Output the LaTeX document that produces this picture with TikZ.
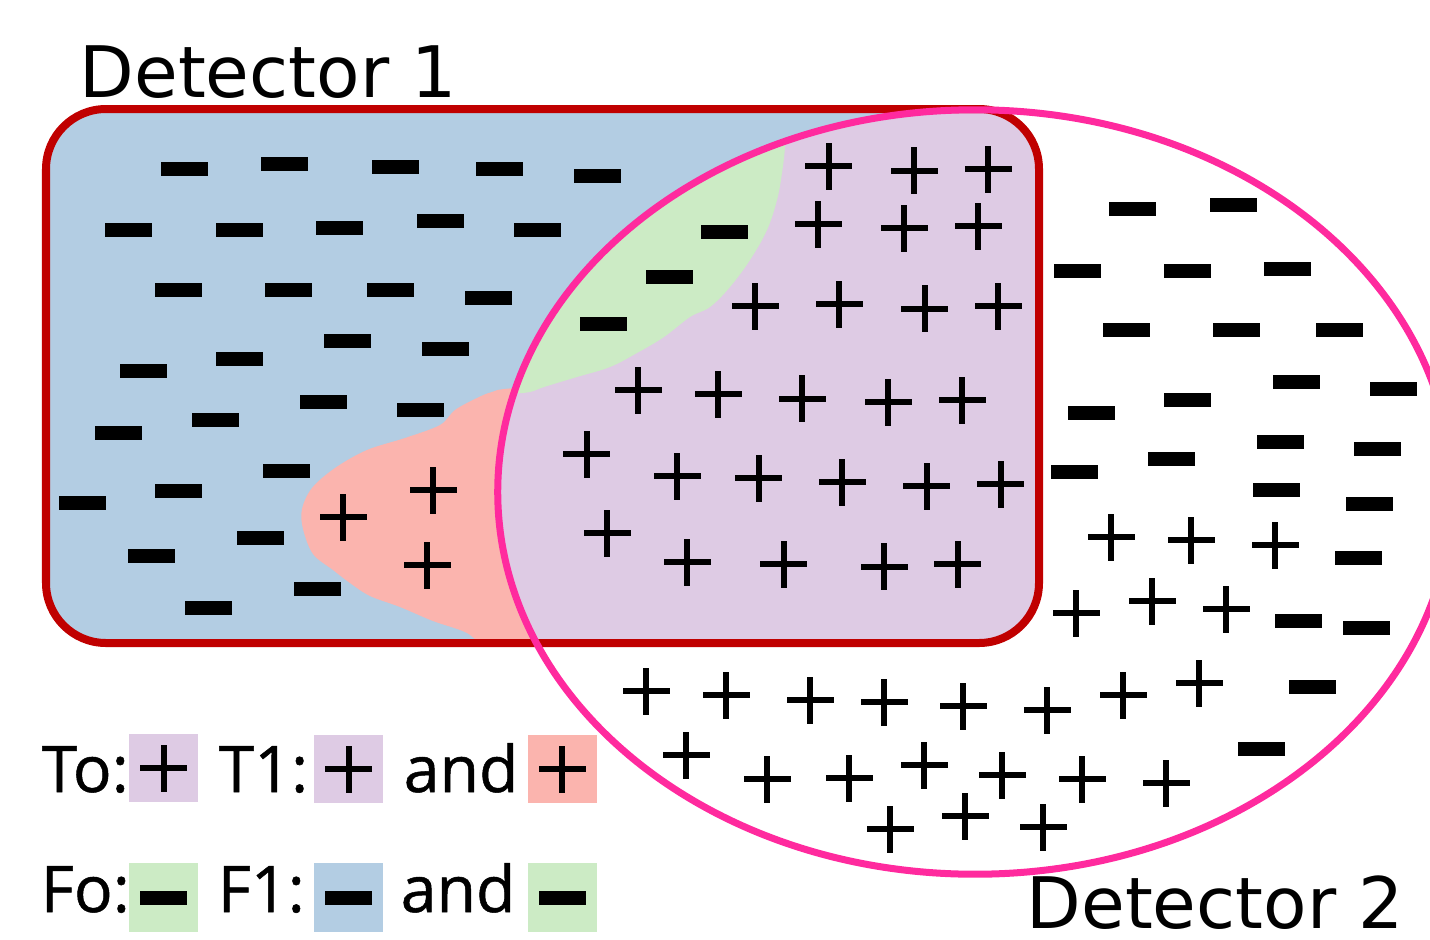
\documentclass[tikz,border=0pt]{standalone}
\usepackage{fontspec}
\newfontfamily\detfont{DejaVu Sans}
\newfontfamily\legfont{Open Sans}[FakeBold=0.8]
\definecolor{blueF}{HTML}{B3CDE3}
\definecolor{salF}{HTML}{FBB4AE}
\definecolor{greenF}{HTML}{CCEBC5}
\definecolor{purpF}{HTML}{DECBE4}
\definecolor{rectC}{HTML}{C00000}
\definecolor{ellC}{HTML}{FF2A9E}
\tikzset{
  pplus/.pic={\fill (-23.5,-3) rectangle (23.5,3); \fill (-3,-23.5) rectangle (3,23.5);},
  mminus/.pic={\fill (-23.5,-7) rectangle (23.5,7);},
  dettext/.style={anchor=base west, inner sep=0, font=\detfont\fontsize{20.2pt}{24pt}\selectfont},
  legtext/.style={anchor=base west, inner sep=0, font=\legfont\fontsize{18.3pt}{22pt}\selectfont},
  legbox/.style={minimum width=0.69cm, minimum height=0.68cm, inner sep=0, draw=none},
  detrect/.style={rounded corners=6mm},
}
\begin{document}
\begin{tikzpicture}[x=0.01cm,y=-0.01cm]
\useasboundingbox (0,0) rectangle (1430,939);
% regions inside detector 1
\begin{scope}
  \clip[detrect] (46,109) rectangle (1039,643);
  \fill[blueF] (0,0) rectangle (1100,700);
  \fill[salF] plot[smooth cycle, tension=0.55] coordinates {(515,388) (492,392) (477,398) (455,410) (440,425) (405,438) (367,450) (335,468) (312,488) (302,509) (303,529) (313,554) (333,570) (350,583) (370,596) (400,607) (433,621) (465,632) (500,650) (620,660) (640,380)};
  \fill[purpF] (975,492) ellipse [x radius=4.77cm, y radius=3.82cm];
\end{scope}
\begin{scope}
  \clip (975,492) ellipse [x radius=4.77cm, y radius=3.82cm];
  \fill[greenF] plot[smooth, tension=0.6] coordinates {(786,130) (785,148) (782,173) (777,200) (767,230) (750,260) (730,287) (710,307) (690,317) (664,337) (637,353) (610,367) (577,377) (544,387) (530,392) (510,394)} -- (440,394) -- (440,90) -- (790,90) -- cycle;
\end{scope}
% minus signs
\foreach \x/\y in {184.3/168.5, 284.7/164.3, 395.3/166.8, 499.5/168.5, 597/176.3,
  128.8/230.2, 239.5/230.2, 339.8/228, 440.2/221.3, 537.5/230.2,
  178.2/289.7, 288.2/289.7, 390.8/289.7, 488.2/297.7,
  143.5/371.3, 239.5/359, 347.8/340.7, 445.2/348.7,
  118.5/432.7, 215.2/420.3, 323.5/402.3, 420.5/410.3,
  286.5/471.3, 82.2/502.7, 178.2/491, 260.2/537.7, 151.5/555.7, 317.5/588.7, 208.5/607.7,
  724.8/231.8, 669.5/277, 603.8/324.3,
  1132.7/209.3, 1233.2/205.3, 1077.5/271, 1187.5/271, 1287.8/269,
  1126.2/330.3, 1236.5/330.3, 1339.5/330.3,
  1091.5/412.7, 1187.5/400, 1296.3/381.7, 1393.5/389.3,
  1074.8/471.5, 1171.2/459.3, 1280/441.7, 1377.2/449.3,
  1276.8/489.8, 1369/504.3, 1358.8/558, 1298/620.7, 1366.8/628,
  1312.8/687, 1261.8/748.7}
  \pic at (\x,\y) {mminus};
% plus signs
\foreach \x/\y in {828.5/166, 914/170.5, 988/169,
  818/224, 904/228, 978/226,
  755/306, 839/304, 924.5/308.5, 998/306,
  638/390, 718/394, 802/398.5, 888/402, 962/400,
  586.5/454, 677/476, 758.5/478, 842/482, 926.5/486, 1000.5/484,
  607/533, 687/562, 783.5/564, 884/566.5, 957.5/564,
  343/517, 433/490, 427/565,
  1111/537, 1191/540, 1275/545, 1076/613, 1152/601, 1226/609,
  646/691, 726/695, 810/700, 884/702, 963/706, 1047/710, 1123/695, 1199/683,
  686/755, 767/779, 849/778, 924/765, 1002/775, 1082/779, 1166/783,
  890/829, 965/816, 1043/827}
  \pic at (\x,\y) {pplus};
% borders
\draw[detrect, rectC, line width=0.08cm] (46,109) rectangle (1039,643);
\draw[ellC, line width=0.07cm] (975,492) ellipse [x radius=4.77cm, y radius=3.82cm];
% labels
\node[dettext] (det1) at (79,97) {Detector 1};
\node[dettext] (det2) at (1026,928) {Detector 2};
% legend
\node[legtext] (to) at (41,792) {To:};
\node[legbox, fill=purpF] (b1) at (163.8,768.2) {};
\pic at (b1) {pplus};
\node[legtext] (t1) at (218,792) {T1:};
\node[legbox, fill=purpF] (b2) at (348.5,769) {};
\pic at (b2) {pplus};
\node[legtext] (and1) at (403,792) {and};
\node[legbox, fill=salF] (b3) at (562.2,769) {};
\pic at (b3) {pplus};
\node[legtext] (fo) at (40,912) {Fo:};
\node[legbox, fill=greenF] (b4) at (163.8,897.5) {};
\pic at (b4) {mminus};
\node[legtext] (f1) at (217,912) {F1:};
\node[legbox, fill=blueF] (b5) at (348.5,897.5) {};
\pic at (b5) {mminus};
\node[legtext] (and2) at (400,912) {and};
\node[legbox, fill=greenF] (b6) at (562.2,897.5) {};
\pic at (b6) {mminus};
\end{tikzpicture}
\end{document}
